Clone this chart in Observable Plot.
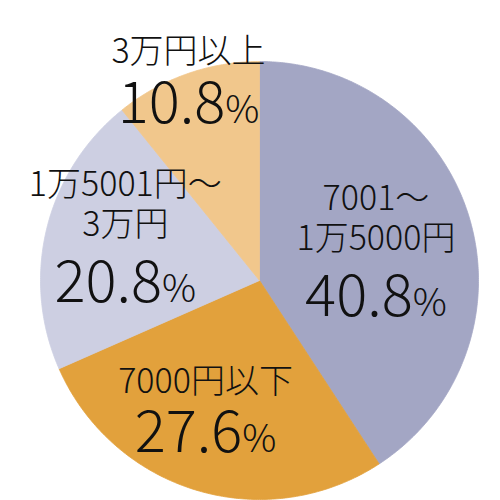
<!DOCTYPE html>
<html><head><meta charset="utf-8">
<script src="https://cdn.jsdelivr.net/npm/d3@7"></script>
<script src="https://cdn.jsdelivr.net/npm/@observablehq/plot@0.6"></script>
<style>body{margin:0;background:#fff}</style>
</head><body><div id="chart"></div>
<script>
// Data
const categories = ["7001〜1万5000円", "7000円以下", "1万5001円〜3万円", "3万円以上"];
const labelLines = [["7001〜", "1万5000円"], ["7000円以下"], ["1万5001円〜", "3万円"], ["3万円以上"]];
const shares = [40.8, 27.6, 20.8, 10.8];
const colors = ["#a3a6c4", "#e2a13c", "#cdcfe2", "#f1c78c"];

// Layout (label placement relative to slice mid-angle)
const labelRadius = [0.55, 0.64, 0.64, 0.96];
const labelNudge = [[1, 5], [-14, -4], [2, -10], [-1, -1]];
const lineOffsets3 = [-52, -12, 46];
const lineOffsets2 = [-29, 23];
const FONT = "'Noto Sans CJK JP', 'Noto Sans', sans-serif";

const arcs = d3.pie().sort(null).value(d => d)(shares);

// Slice polygons in unit coordinates (angle measured clockwise from top)
const polys = [];
arcs.forEach((p, i) => {
  const n = Math.max(2, Math.ceil((p.endAngle - p.startAngle) / 0.01));
  polys.push({cat: categories[i], x: 0, y: 0});
  for (let k = 0; k <= n; k++) {
    const a = p.startAngle + (p.endAngle - p.startAngle) * k / n;
    polys.push({cat: categories[i], x: Math.sin(a), y: Math.cos(a)});
  }
  polys.push({cat: categories[i], x: 0, y: 0});
});

// Text marks
const textMarks = [];
arcs.forEach((p, i) => {
  const mid = (p.startAngle + p.endAngle) / 2;
  const r = labelRadius[i];
  const anchor = {x: r * Math.sin(mid), y: r * Math.cos(mid)};
  const lines = labelLines[i];
  const offs = lines.length === 2 ? lineOffsets3 : lineOffsets2;
  lines.forEach((t, j) => {
    textMarks.push(Plot.text([{...anchor, t}], {
      x: "x", y: "y", text: "t", dx: labelNudge[i][0], dy: labelNudge[i][1] + offs[j],
      fontSize: 34, fontWeight: 300, fill: "#111", fontFamily: FONT
    }));
  });
  textMarks.push(Plot.text([{...anchor, t: shares[i].toFixed(1) + "%"}], {
    x: "x", y: "y", text: "t", dx: labelNudge[i][0], dy: labelNudge[i][1] + offs[offs.length - 1],
    fontSize: 58, fontWeight: 300, fill: "#111", fontFamily: FONT
  }));
});

const chart = Plot.plot({
  width: 500,
  height: 500,
  margin: 0,
  style: {fontFamily: FONT, background: "#fff"},
  x: {domain: [-1, 1], range: [40, 478], axis: null},
  y: {domain: [-1, 1], range: [499, 61], axis: null},
  color: {domain: categories, range: colors},
  marks: [
    Plot.line(polys, {x: "x", y: "y", z: "cat", fill: "cat", stroke: "cat", strokeWidth: 0.8, curve: "linear"}),
    ...textMarks
  ]
});

// Make the % sign smaller, as in the reference
d3.select(chart).selectAll("text").filter(function() {
  return this.textContent.endsWith("%") && this.childElementCount === 0;
}).each(function() {
  const s = this.textContent;
  const el = d3.select(this);
  el.text(s.slice(0, -1));
  el.append("tspan").attr("font-size", 38).text("%");
});

document.getElementById("chart").appendChild(chart);
</script>
</body></html>
